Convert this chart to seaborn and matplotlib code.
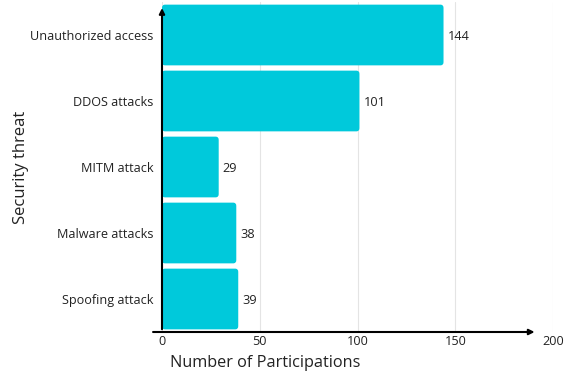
import matplotlib
matplotlib.use("Agg")
import matplotlib.pyplot as plt
import seaborn as sns
import pandas as pd
from matplotlib.patches import FancyBboxPatch

threats = ["Unauthorized access", "DDOS attacks", "MITM attack", "Malware attacks", "Spoofing attack"]
counts = [144, 101, 29, 38, 39]
xticks = [0, 50, 100, 150, 200]

df = pd.DataFrame({"threat": threats, "count": counts})

sns.set_theme(style="white")
plt.rcParams['font.family'] = ['Open Sans', 'DejaVu Sans']

fig = plt.figure(figsize=(5.69, 3.78), dpi=100)
ax = fig.add_axes([162 / 569, 1 - 332 / 378, 391 / 569, 330 / 378])

sns.barplot(data=df, x="count", y="threat", color="#00C9DB", width=0.92,
            saturation=1, ax=ax, zorder=3)

# rounded corners
for p in list(ax.patches):
    x, y = p.get_x(), p.get_y()
    w, h = p.get_width(), p.get_height()
    fb = FancyBboxPatch((x, y), w, h, boxstyle="round,pad=0,rounding_size=1.6",
                        mutation_aspect=0.03, facecolor=p.get_facecolor(),
                        edgecolor="none", zorder=3)
    p.remove()
    ax.add_patch(fb)

for i, v in enumerate(counts):
    ax.text(v + 2, i + 0.03, str(v), va="center", ha="left", fontsize=9.2, color="#222222")

ax.set_xlim(0, 200)
ax.set_ylim(4.5, -0.5)
ax.set_xticks(xticks)
ax.set_xticklabels([str(t) for t in xticks])
ax.grid(axis="x", color="#e4e4e4", linewidth=0.8, zorder=0)
for s in ax.spines.values():
    s.set_visible(False)
ax.tick_params(axis="both", length=0, labelsize=9.1, labelcolor="#222222")
ax.tick_params(axis="x", pad=2)
ax.tick_params(axis="y", pad=6)

ax.set_xlabel("Number of Participations", fontsize=11.7, color="#222222")
ax.set_ylabel("Security threat", fontsize=12, color="#222222")
ax.xaxis.set_label_coords(0.02, -0.07)
ax.xaxis.label.set_ha("left")
ax.yaxis.set_label_coords(-0.34, 0.5)

# arrow axes
ax.annotate("", xy=(0.96, 0.0), xytext=(-0.03, 0.0), xycoords="axes fraction",
            arrowprops=dict(arrowstyle="-|>", color="black", lw=1.5, mutation_scale=8),
            annotation_clip=False, zorder=5)
ax.annotate("", xy=(0.0, 0.99), xytext=(0.0, 0.0), xycoords="axes fraction",
            arrowprops=dict(arrowstyle="-|>", color="black", lw=1.5, mutation_scale=8),
            annotation_clip=False, zorder=5)

fig.savefig("out.png", dpi=100)
